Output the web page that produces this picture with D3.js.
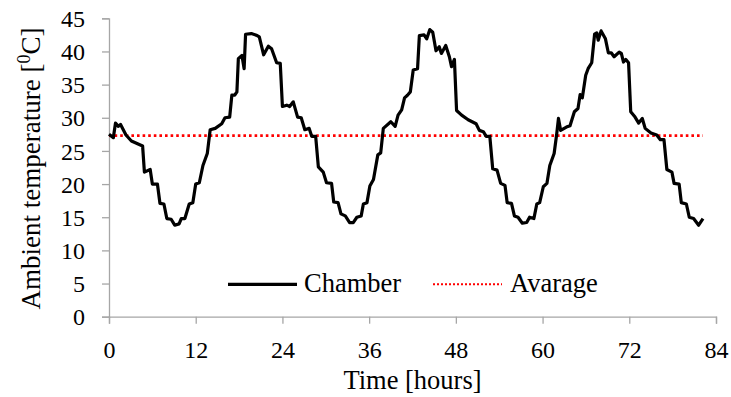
<!DOCTYPE html>
<html>
<head>
<meta charset="utf-8">
<script src="https://cdn.jsdelivr.net/npm/d3@7"></script>
<style>
  html, body { margin: 0; padding: 0; background: #fff; }
  svg { display: block; }
</style>
</head>
<body>
<svg id="chart" width="731" height="397"></svg>
<script>
// ---- data ----
const hours = [0, 0.6, 0.9, 1.3, 1.6, 2.35, 3.1, 4.65, 4.9, 5.7, 6.0, 6.7, 7.05, 7.6, 8.0, 8.6, 9.1, 9.7, 10.0, 10.5,
  11.1, 11.6, 12.0, 12.5, 13.0, 13.6, 14.0, 14.7, 15.6, 16.05, 16.7, 17.0, 17.4, 17.7, 17.9, 18.4, 18.7, 18.9, 19.7, 20.5,
  20.8, 21.4, 22.05, 22.5, 23.2, 23.7, 24.0, 24.6, 25.0, 25.5, 26.1, 26.6, 27.1, 27.7, 28.05, 28.6, 28.97, 29.65, 30.1, 30.8,
  31.1, 31.7, 32.1, 32.7, 33.3, 33.8, 34.3, 34.9, 35.2, 35.7, 36.1, 36.6, 37.2, 37.6, 37.96, 39.0, 39.6, 40.0, 40.5, 40.9,
  41.3, 41.7, 42.1, 42.7, 42.95, 43.6, 43.97, 44.4, 44.8, 45.25, 45.7, 46.0, 46.6, 47.1, 47.4, 47.8, 48.1, 48.8, 49.7, 50.8,
  51.25, 51.8, 52.2, 52.7, 53.1, 53.7, 54.2, 54.8, 55.1, 55.7, 56.1, 56.6, 57.2, 57.8, 58.2, 58.8, 59.2, 59.6, 60.1, 60.6,
  61.0, 61.6, 61.96, 62.2, 62.5, 63.3, 63.8, 64.4, 64.9, 65.2, 65.5, 65.97, 66.3, 66.8, 67.2, 67.5, 67.7, 68.1, 68.7, 69.1,
  69.5, 69.9, 70.6, 70.9, 71.2, 71.5, 71.9, 72.2, 72.8, 73.3, 73.8, 74.2, 75.0, 75.8, 76.3, 76.8, 77.2, 77.9, 78.2, 78.9,
  79.2, 79.9, 80.3, 80.9, 81.6, 82.2];
const chamber = [27.5, 27.0, 29.2, 28.7, 29.0, 27.4, 26.5, 25.75, 21.8, 22.2, 20.0, 20.0, 17.1, 17.0, 14.8, 14.7, 13.8, 14.0, 14.8, 14.8,
  17.0, 17.2, 20.0, 20.2, 22.8, 24.6, 28.2, 28.4, 29.1, 30.0, 30.1, 33.4, 33.4, 33.9, 38.9, 39.4, 37.4, 42.6, 42.7, 42.4,
  42.2, 39.5, 40.8, 40.4, 38.3, 38.2, 31.7, 31.9, 31.7, 32.4, 30.1, 30.0, 28.2, 28.4, 27.2, 27.2, 22.6, 21.8, 20.2, 20.1,
  17.3, 17.2, 15.5, 15.2, 14.2, 14.2, 15.0, 15.2, 17.0, 17.2, 19.7, 20.7, 24.4, 24.7, 28.4, 29.4, 28.7, 30.4, 31.2, 33.0,
  33.4, 33.9, 37.2, 37.4, 42.4, 42.5, 41.9, 43.3, 42.9, 40.1, 40.7, 39.7, 40.9, 39.2, 37.7, 38.8, 31.1, 30.4, 29.7, 29.1,
  28.1, 27.9, 27.2, 27.2, 22.3, 22.1, 20.1, 19.8, 17.2, 17.1, 15.2, 15.0, 14.1, 14.2, 15.0, 14.8, 17.0, 17.2, 19.6, 20.1,
  22.8, 24.6, 27.6, 29.9, 28.1, 28.6, 28.8, 30.9, 31.4, 33.5, 33.0, 36.4, 37.4, 38.3, 42.6, 42.8, 41.7, 43.1, 41.9, 39.8,
  39.8, 39.2, 39.9, 39.7, 38.4, 38.8, 38.3, 30.9, 30.1, 29.2, 29.9, 28.4, 27.7, 27.4, 26.7, 26.7, 22.2, 21.8, 20.1, 20.0,
  17.2, 17.0, 15.0, 14.8, 13.8, 14.8];
const averageValue = 27.3;
const xTicks = [0, 12, 24, 36, 48, 60, 72, 84];
const yTicks = [0, 5, 10, 15, 20, 25, 30, 35, 40, 45];
const seriesNames = ["Chamber", "Avarage"];
const xTitle = "Time [hours]";

// ---- layout ----
const FONT = "'Liberation Serif', 'DejaVu Serif', serif";
const svg = d3.select("#chart");
const x = d3.scaleLinear().domain([0, 84]).range([109, 716]);
const y = d3.scaleLinear().domain([0, 45]).range([316.7, 18.3]);
const axisColor = "#a6a6a6";

// y axis
const gy = svg.append("g").attr("transform", `translate(${x(0)},0)`)
  .call(d3.axisLeft(y).tickValues(yTicks).tickSize(7).tickPadding(17).tickFormat(d3.format("d")));
gy.attr("font-family", null).attr("font-size", null);
gy.select(".domain").attr("stroke", axisColor).attr("stroke-width", 1.3);
gy.selectAll(".tick line").attr("stroke", axisColor).attr("stroke-width", 1.3);
gy.selectAll(".tick text").attr("dy", "0.34em")
  .style("font-family", FONT).style("font-size", "24px").attr("fill", "#000");

// x axis
const gx = svg.append("g").attr("transform", `translate(0,${y(0)})`)
  .call(d3.axisBottom(x).tickValues(xTicks).tickSize(7).tickFormat(d3.format("d")));
gx.attr("font-family", null).attr("font-size", null);
gx.select(".domain").attr("stroke", axisColor).attr("stroke-width", 1.3);
gx.selectAll(".tick line").attr("stroke", axisColor).attr("stroke-width", 1.3);
gx.selectAll(".tick text").attr("y", 41.6).attr("dy", null)
  .style("font-family", FONT).style("font-size", "24px").attr("fill", "#000");

// average line
svg.append("line")
  .attr("x1", x(0)).attr("x2", x(d3.max(hours)))
  .attr("y1", y(averageValue)).attr("y2", y(averageValue))
  .attr("stroke", "#ff0000").attr("stroke-width", 2.6).attr("stroke-dasharray", "2.6,3");

// chamber line
const pts = hours.map((h, i) => [h, chamber[i]]);
svg.append("path")
  .datum(pts)
  .attr("fill", "none").attr("stroke", "#000").attr("stroke-width", 3.2)
  .attr("stroke-linejoin", "round")
  .attr("d", d3.line().x(d => x(d[0])).y(d => y(d[1])));

// legend
const leg = svg.append("g");
leg.append("line").attr("x1", 228).attr("x2", 297).attr("y1", 284.3).attr("y2", 284.3)
  .attr("stroke", "#000").attr("stroke-width", 3.2);
leg.append("text").attr("x", 304).attr("y", 292).text(seriesNames[0])
  .style("font-family", FONT).style("font-size", "26.5px");
leg.append("line").attr("x1", 433).attr("x2", 502).attr("y1", 284.3).attr("y2", 284.3)
  .attr("stroke", "#ff0000").attr("stroke-width", 2).attr("stroke-dasharray", "2,2");
leg.append("text").attr("x", 510).attr("y", 292).text(seriesNames[1])
  .style("font-family", FONT).style("font-size", "26.5px");

// axis titles
svg.append("text").attr("x", (x(0) + x(84)) / 2).attr("y", 389).attr("text-anchor", "middle")
  .style("font-family", FONT).style("font-size", "26.5px").text(xTitle);
const yt = svg.append("text")
  .attr("transform", `translate(40,${(y(0) + y(45)) / 2 + 1}) rotate(-90)`)
  .attr("text-anchor", "middle")
  .style("font-family", FONT).style("font-size", "27px");
yt.append("tspan").text("Ambient temperature [");
yt.append("tspan").style("font-size", "18px").attr("dy", -10).text("0");
yt.append("tspan").attr("dy", 10).text("C]");
</script>
</body>
</html>
